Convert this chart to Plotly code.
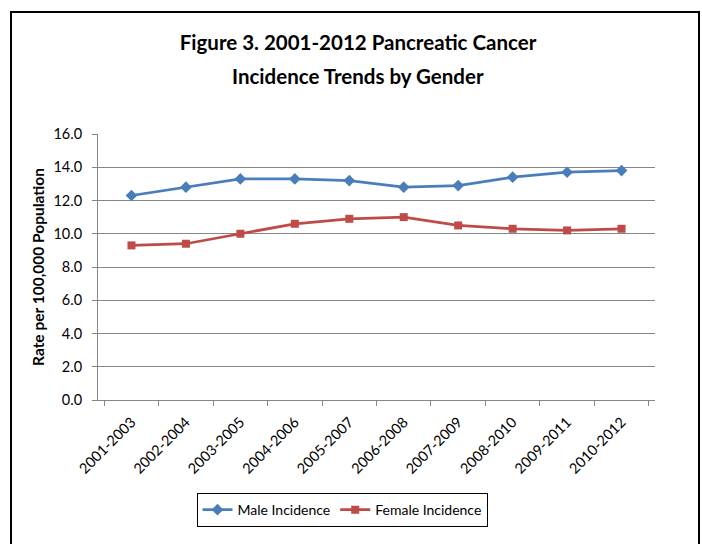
import plotly.graph_objects as go

periods = ["2001-2003", "2002-2004", "2003-2005", "2004-2006", "2005-2007",
           "2006-2008", "2007-2009", "2008-2010", "2009-2011", "2010-2012"]
male = [12.3, 12.8, 13.3, 13.3, 13.2, 12.8, 12.9, 13.4, 13.7, 13.8]
female = [9.3, 9.4, 10.0, 10.6, 10.9, 11.0, 10.5, 10.3, 10.2, 10.3]
title_lines = ["Figure 3. 2001-2012 Pancreatic Cancer", "Incidence Trends by Gender"]

FONT = "Lato"
L, R, T, B = 98, 655, 133.5, 400.5
W, H = 702, 544
pw, ph = R - L, B - T

fig = go.Figure()
fig.add_trace(go.Scatter(x=periods, y=male, mode="lines+markers", name="Male Incidence",
                         line=dict(color="#4A7EBB", width=2.75),
                         marker=dict(symbol="diamond", size=9, color="#4A7EBB")))
fig.add_trace(go.Scatter(x=periods, y=female, mode="lines+markers", name="Female Incidence",
                         line=dict(color="#BE4B48", width=2.75),
                         marker=dict(symbol="square", size=8, color="#BE4B48")))

fig.update_layout(
    width=W, height=H,
    margin=dict(l=L, r=W - R, t=T, b=H - B, autoexpand=False),
    paper_bgcolor="white", plot_bgcolor="white",
    font=dict(family=FONT, color="black", size=12),
    title=dict(text="<b>" + title_lines[0] + "</b>",
               x=358 / W, xanchor="center", y=1 - 43 / H, yanchor="middle",
               font=dict(family=FONT, size=20.5, color="black")),
    annotations=[dict(text="<b>" + title_lines[1] + "</b>", xref="paper", yref="paper",
                      x=(358 - L) / pw, y=(B - 75) / ph, xanchor="center", yanchor="middle",
                      showarrow=False, font=dict(family=FONT, size=20.5, color="black"))],
    showlegend=True,
    legend=dict(orientation="h", x=(342 - L) / pw, xanchor="center", y=(B - 511) / ph, yanchor="middle",
                bordercolor="black", borderwidth=1, font=dict(size=14, family=FONT),
                itemwidth=30, tracegroupgap=0),
    shapes=[dict(type="rect", xref="paper", yref="paper",
                 x0=(11 - L) / pw, x1=(699 - L) / pw,
                 y0=(B - 560) / ph, y1=(B - 11) / ph,
                 line=dict(color="black", width=2), fillcolor="rgba(0,0,0,0)", layer="below")],
)
fig.update_xaxes(type="category", tickangle=-45, tickson="boundaries", ticks="outside",
                 ticklen=5, tickcolor="#868686", showline=True, linecolor="#868686", linewidth=1,
                 showgrid=False, tickfont=dict(size=14.5, family=FONT), ticklabelstandoff=7)
fig.update_yaxes(range=[0, 16], dtick=2, tickformat=".1f", ticks="outside", ticklen=5,
                 tickcolor="#868686", showline=True, linecolor="#868686", linewidth=1,
                 showgrid=True, gridcolor="#868686", gridwidth=1, zeroline=False,
                 tickfont=dict(size=14.5, family=FONT), ticklabelstandoff=7,
                 title=dict(text="<b>Rate per 100,000 Population</b>", font=dict(size=15.5, family=FONT), standoff=5))
fig.write_html("out.html", config={"displayModeBar": False},
               post_script="document.body.style.margin='0';document.body.style.padding='0';")
